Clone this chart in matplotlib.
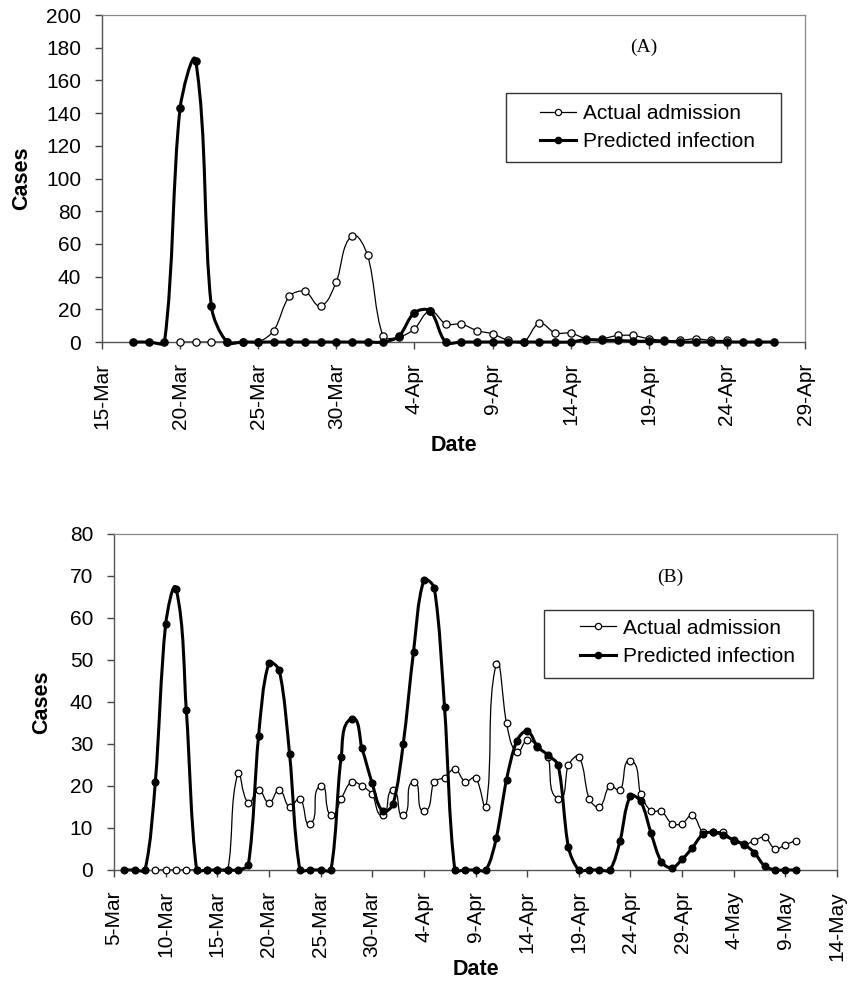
import numpy as np
import matplotlib
matplotlib.use('Agg')
import matplotlib.pyplot as plt
from matplotlib.path import Path
from matplotlib.patches import PathPatch, Rectangle
from matplotlib.lines import Line2D

plt.rcParams['font.family'] = ['Liberation Sans', 'DejaVu Sans']

# ---- panel A: days counted from 15-Mar ----
a_tick_labels = ['15-Mar', '20-Mar', '25-Mar', '30-Mar', '4-Apr', '9-Apr',
                 '14-Apr', '19-Apr', '24-Apr', '29-Apr']
a_actual_days = list(range(5, 41))
a_actual = [0, 0, 0, 0, 0, 0, 7, 28, 31, 22, 37, 65, 53, 3.5, 3, 8, 19, 11,
            11, 7, 5, 1, 0, 11.5, 5.5, 5.5, 2, 2, 4, 4, 2, 1, 1, 2, 1, 1]
a_pred_days = list(range(2, 44))
a_pred = [0, 0, 0, 143, 172, 22, 0, 0, 0, 0, 0, 0, 0, 0, 0, 0, 0, 3.5, 18, 19,
          0, 0, 0, 0, 0, 0, 0, 0, 0, 1.5, 1, 1, 0.5, 0.5, 0.5, 0, 0, 0, 0, 0,
          0, 0]

# ---- panel B: days counted from 5-Mar ----
b_tick_labels = ['5-Mar', '10-Mar', '15-Mar', '20-Mar', '25-Mar', '30-Mar',
                 '4-Apr', '9-Apr', '14-Apr', '19-Apr', '24-Apr', '29-Apr',
                 '4-May', '9-May', '14-May']
b_actual_days = list(range(4, 67))
b_actual = [0, 0, 0, 0, 0, 0, 0, 0, 23, 16, 19, 16, 19, 15, 17, 11, 20, 13,
            17, 21, 20, 18, 13, 19, 13, 21, 14, 21, 22, 24, 21, 22, 15, 49,
            35, 28, 31, 29.5, 27, 17, 25, 27, 17, 15, 20, 19, 26, 18, 14, 14,
            11, 11, 13, 9, 9, 9, 7, 6, 7, 7.8, 5, 6, 7]
b_pred_days = list(range(1, 67))
b_pred = [0, 0, 0, 21, 58.5, 67, 38, 0, 0, 0, 0, 0, 1.2, 32, 49.3, 47.5, 27.5,
          0, 0, 0, 0, 27, 36, 29, 20.6, 14, 15.6, 30, 52, 69, 67.2, 38.7, 0,
          0, 0, 0, 7.5, 21.5, 30.7, 33, 29.3, 27.4, 24.9, 5.4, 0, 0, 0, 0, 7,
          17.6, 16.3, 8.7, 1.9, 0.5, 2.5, 5.3, 8.5, 9, 8.3, 7.1, 6.1, 4.1,
          0.9, 0, 0, 0]

legend_labels = ['Actual admission', 'Predicted infection']


def smooth_path(ax, x, y, k=0.3):
    # Excel-like smoothed line: bezier segments through every point,
    # control points built in screen space so overshoot stays small
    pts = ax.transData.transform(np.column_stack([x, y]).astype(float))
    n = len(pts)
    tang = []
    for i in range(n):
        d = pts[min(i + 1, n - 1)] - pts[max(i - 1, 0)]
        L = np.hypot(*d)
        tang.append(d / L if L > 0 else np.zeros(2))
    verts = [pts[0]]
    codes = [Path.MOVETO]
    for i in range(n - 1):
        seg = np.hypot(*(pts[i + 1] - pts[i]))
        verts += [pts[i] + tang[i] * seg * k,
                  pts[i + 1] - tang[i + 1] * seg * k, pts[i + 1]]
        codes += [Path.CURVE4] * 3
    verts = ax.transData.inverted().transform(np.array(verts))
    return Path(verts, codes)


def draw_panel(ax, act_x, act_y, pred_x, pred_y, ms):
    ax.add_patch(PathPatch(smooth_path(ax, act_x, act_y), fill=False,
                           edgecolor='black', lw=0.9, zorder=2,
                           clip_on=False))
    ax.plot(act_x, act_y, 'o', ms=ms, mfc='white', mec='black', mew=0.9,
            zorder=3, clip_on=False)
    ax.add_patch(PathPatch(smooth_path(ax, pred_x, pred_y), fill=False,
                           edgecolor='black', lw=2.2, zorder=4,
                           clip_on=False))
    ax.plot(pred_x, pred_y, 'o', ms=ms, mfc='black', mec='black',
            zorder=5, clip_on=False)


def style_axes(ax, labels, ymax, ystep):
    n = len(labels)
    ax.set_xlim(0, 5 * (n - 1))
    ax.set_ylim(0, ymax)
    ax.set_xticks(np.arange(0, 5 * n, 5))
    ax.set_xticklabels(labels, rotation=90)
    ax.set_yticks(np.arange(0, ymax + 1, ystep))
    ax.tick_params(direction='out', length=5, width=1, color='#444444',
                   labelsize=15, pad=10)
    for s in ['left', 'bottom']:
        ax.spines[s].set_color('#555555')
        ax.spines[s].set_linewidth(1)
    for s in ['top', 'right']:
        ax.spines[s].set_color('#888888')
        ax.spines[s].set_linewidth(0.9)
    ax.set_ylabel('Cases', fontsize=15.5, fontweight='bold')
    ax.set_xlabel('Date', fontsize=15.5, fontweight='bold')


def add_legend(ax, anchor, box):
    handles = [
        Line2D([], [], color='black', lw=0.9, marker='o', ms=4.5,
               mfc='white', mec='black', mew=0.9),
        Line2D([], [], color='black', lw=2.2, marker='o', ms=4.5,
               mfc='black', mec='black'),
    ]
    ax.legend(handles, legend_labels, loc='center left',
              bbox_to_anchor=anchor, fontsize=15, frameon=False,
              handlelength=1.75, handletextpad=0.3, borderpad=0,
              labelspacing=0.45, borderaxespad=0)
    x0, y0, x1, y1 = box
    ax.add_patch(Rectangle((x0, y0), x1 - x0, y1 - y0,
                           transform=ax.transAxes, fill=False,
                           edgecolor='#333333', lw=1, zorder=6))


fig = plt.figure(figsize=(8.49, 9.84), dpi=100)
ax1 = fig.add_axes([0.1201, 0.6524, 0.8281, 0.3323])
ax2 = fig.add_axes([0.1343, 0.1159, 0.8516, 0.3415])

style_axes(ax1, a_tick_labels, 200, 20)
draw_panel(ax1, a_actual_days, a_actual, a_pred_days, a_pred, 5.2)
ax1.yaxis.set_label_coords(-0.0996, 0.5)
ax1.xaxis.set_label_coords(0.5, -0.285)
add_legend(ax1, (0.623, 0.656), (0.5747, 0.5505, 0.9659, 0.7615))
ax1.text(0.77, 0.902, '(A)', transform=ax1.transAxes, fontsize=14,
         family='Liberation Serif', ha='center', va='center')

style_axes(ax2, b_tick_labels, 80, 10)
draw_panel(ax2, b_actual_days, b_actual, b_pred_days, b_pred, 4.8)
ax2.yaxis.set_label_coords(-0.0858, 0.5)
ax2.xaxis.set_label_coords(0.5, -0.265)
add_legend(ax2, (0.6445, 0.677), (0.5947, 0.5714, 0.9668, 0.7738))
ax2.text(0.769, 0.872, '(B)', transform=ax2.transAxes, fontsize=14,
         family='Liberation Serif', ha='center', va='center')

fig.savefig('out.png', dpi=100)
